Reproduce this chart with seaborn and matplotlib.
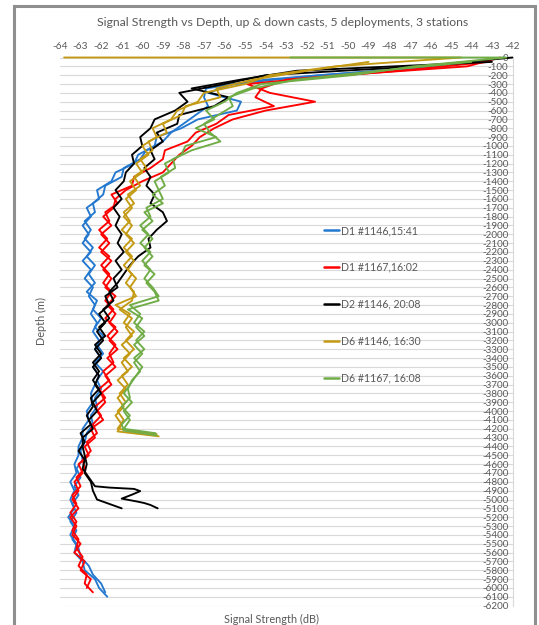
import numpy as np
import pandas as pd
import matplotlib
matplotlib.use("Agg")
import matplotlib.pyplot as plt
from matplotlib.patches import Rectangle
import seaborn as sns

# ---------------- data ----------------
series_names = ["D1 #1146,15:41", "D1 #1167,16:02", "D2 #1146, 20:08",
                "D6 #1146, 16:30", "D6 #1167, 16:08"]
series_colors = ["#2478CF", "#FF0000", "#000000", "#C49A14", "#70AD47"]

x_ticks = list(range(-64, -41))
y_ticks = list(range(0, -6300, -100))

# down casts sampled every 100 m from the surface (0, -100, ...)
# up casts sampled every 100 m from -50 m (-50, -150, ...)
blue_down = [-42.4, -45.3, -51.4, -55.6, -56.8, -55.2, -55.4, -57.3, -58.1, -59.3,
             -59.4, -60.2, -60.4, -61.3, -61.5, -62.2, -62.1, -62.7, -62.5, -62.9,
             -62.6, -62.9, -62.5, -62.9, -62.5, -62.8, -62.4, -62.6, -62.3, -62.5,
             -62.2, -62.4, -62.1, -62.3, -62.0, -62.4, -62.1, -62.3, -62.5, -62.4,
             -62.7, -62.6, -62.9, -62.9, -63.1, -63.1, -63.3, -63.2, -63.5, -63.3,
             -63.5, -63.3, -63.6, -63.3, -63.5, -63.2, -63.3, -62.9, -62.8, -62.3,
             -62.1, -61.7]
blue_up = [-43.8, -48.6, -54.0, -56.9, -57.0, -56.8, -57.4, -58.0, -58.6, -59.0,
           -59.8, -60.1, -60.9, -61.0, -61.8, -61.9, -62.4, -62.3, -62.8, -62.5,
           -62.8, -62.4, -62.7, -62.3, -62.6, -62.3, -62.7, -62.2, -62.4, -62.0,
           -62.3, -61.9, -62.2, -61.9, -62.3, -61.9, -62.2, -62.0, -62.3, -62.2,
           -62.5, -62.4, -62.7, -62.8, -63.0, -62.9, -63.2, -63.0, -63.3, -63.1,
           -63.4, -63.2, -63.5, -63.2, -63.4, -63.1, -63.0, -62.6, -62.4, -62.0,
           -61.8]

red_down = [-42.6, -44.2, -50.3, -54.9, -53.8, -51.6, -54.0, -55.6, -56.5, -57.2,
            -57.6, -58.2, -58.6, -59.0, -60.0, -60.8, -61.3, -61.4, -61.9, -61.5,
            -62.0, -61.6, -62.0, -61.5, -61.9, -61.5, -61.8, -61.3, -61.7, -61.3,
            -61.6, -61.2, -61.6, -61.2, -61.7, -61.3, -61.8, -61.5, -62.0, -61.8,
            -62.2, -61.9, -62.5, -62.3, -62.8, -62.6, -63.1, -62.9, -63.3, -63.1,
            -63.4, -63.1, -63.5, -63.2, -63.4, -63.0, -63.3, -62.8, -63.0, -62.5,
            -62.7]
red_up = [-43.2, -47.5, -53.0, -54.2, -54.5, -53.6, -55.8, -56.4, -57.4, -57.8,
          -58.9, -59.0, -59.6, -60.4, -60.5, -61.5, -61.2, -61.8, -61.6, -62.1,
          -61.7, -62.1, -61.6, -62.0, -61.6, -61.9, -61.5, -61.8, -61.4, -61.8,
          -61.3, -61.7, -61.3, -61.6, -61.4, -61.9, -61.6, -62.1, -61.8, -62.3,
          -62.0, -62.4, -62.2, -62.7, -62.5, -62.9, -62.8, -63.2, -63.0, -63.4,
          -63.2, -63.5, -63.2, -63.4, -63.1, -63.2, -62.9, -63.1, -62.7, -62.8,
          -62.4]

black_down = [-42.0, -46.5, -54.0, -56.0, -58.2, -57.8, -58.4, -59.4, -59.6, -60.1,
              -60.0, -60.5, -60.4, -60.8, -60.9, -61.3, -61.0, -61.4, -61.1, -61.3,
              -61.0, -61.2, -60.9, -61.3, -61.0, -61.4, -61.2, -61.8, -61.6, -62.1,
              -61.8, -62.2, -61.9, -62.3, -62.0, -62.4, -62.1, -62.3, -62.0, -62.4,
              -62.2, -62.6, -62.4, -62.9, -62.9, -62.8, -62.7, -62.8, -62.5, -62.4,
              -62.2, -61.0]
black_up = [-43.0, -52.5, -55.2, -57.6, -55.8, -56.5, -58.2, -58.3, -59.3, -59.0,
            -59.6, -59.4, -59.9, -59.6, -59.8, -59.4, -59.6, -59.0, -58.8, -59.3,
            -59.7, -59.6, -60.2, -60.6, -60.9, -61.2, -61.6, -61.4, -61.9, -61.6,
            -62.1, -61.8, -62.3, -62.0, -62.4, -62.1, -62.4, -62.1, -62.5, -62.4,
            -62.7, -62.5, -63.0, -62.8, -63.1, -62.8, -62.9, -62.6]
# bottom excursion of the D2 up cast (depth, value)
black_up_tail_depth = [-4850, -4865, -4880, -4905, -4945, -4990, -5025, -5040, -5062, -5100]
black_up_tail_value = [-62.3, -61.6, -60.4, -60.1, -60.5, -61.0, -60.2, -59.9, -59.6, -59.25]

gold_down = [-44.5, -50.6, -53.8, -55.0, -57.0, -57.3, -58.3, -58.6, -59.5, -59.3,
             -60.0, -59.7, -60.3, -60.0, -60.6, -60.3, -60.8, -60.5, -60.9, -60.5,
             -60.8, -60.4, -60.8, -60.4, -60.7, -60.3, -60.6, -60.3, -61.3, -60.6,
             -60.9, -60.4, -60.8, -60.4, -60.9, -60.5, -61.0, -60.7, -61.1, -60.8,
             -61.2, -60.9, -61.2]
gold_up = [-49.0, -52.0, -54.6, -56.4, -56.2, -57.9, -58.1, -59.0, -58.8, -59.7,
           -59.5, -60.1, -59.8, -60.4, -60.1, -60.7, -60.4, -60.9, -60.6, -61.0,
           -60.5, -60.9, -60.5, -60.9, -60.5, -60.8, -60.4, -60.5, -61.1, -60.5,
           -60.8, -60.5, -61.0, -60.6, -61.0, -60.7, -61.2, -60.8, -61.2, -60.9,
           -61.3, -61.0]
gold_down_head_depth = [0]
gold_down_head_value = [-63.8]
gold_down_tail_depth = [-4260]
gold_down_tail_value = [-59.3]
gold_up_tail_depth = [-4230, -4285]
gold_up_tail_value = [-61.2, -59.2]

green_down = [-42.3, -46.8, -49.8, -54.2, -55.4, -56.0, -56.9, -56.5, -57.4, -56.4,
              -57.9, -58.1, -58.9, -58.7, -59.4, -59.2, -59.0, -59.8, -59.6, -60.1,
              -59.7, -60.1, -59.6, -60.0, -59.6, -59.9, -59.5, -59.2, -60.6, -60.1,
              -60.4, -59.9, -60.3, -59.9, -60.4, -60.0, -60.3, -60.6, -60.9, -60.5,
              -60.9, -60.6, -60.9]
green_up = [-44.0, -48.5, -52.5, -54.6, -55.8, -55.6, -56.3, -57.0, -56.7, -56.2,
            -57.6, -58.5, -58.4, -59.1, -58.9, -59.5, -59.0, -59.9, -59.5, -60.0,
            -59.5, -59.9, -59.5, -59.9, -59.4, -59.8, -59.4, -59.2, -60.7, -60.0,
            -60.3, -59.9, -60.4, -60.0, -60.4, -60.1, -60.5, -60.7, -60.6, -61.0,
            -60.6, -61.0]
green_down_head_depth = [0]
green_down_head_value = [-52.8]
green_down_tail_depth = [-4250]
green_down_tail_value = [-59.35]
green_up_tail_depth = [-4220, -4275]
green_up_tail_value = [-60.9, -59.3]


def cast_frame(name, cast, values, start, head=([], []), tail=([], [])):
    depth = list(head[0]) + list(start - 100 * np.arange(len(values))) + list(tail[0])
    val = list(head[1]) + list(values) + list(tail[1])
    return pd.DataFrame({"series": name, "cast": cast, "depth": depth, "signal": val})


frames = [
    cast_frame(series_names[0], "down", blue_down, 0),
    cast_frame(series_names[0], "up", blue_up, -50),
    cast_frame(series_names[1], "down", red_down, 0),
    cast_frame(series_names[1], "up", red_up, -50),
    cast_frame(series_names[2], "down", black_down, 0),
    cast_frame(series_names[2], "up", black_up, -50,
               tail=(black_up_tail_depth, black_up_tail_value)),
    cast_frame(series_names[3], "down", gold_down, 0,
               head=(gold_down_head_depth, gold_down_head_value),
               tail=(gold_down_tail_depth, gold_down_tail_value)),
    cast_frame(series_names[3], "up", gold_up, -50,
               tail=(gold_up_tail_depth, gold_up_tail_value)),
    cast_frame(series_names[4], "down", green_down, 0,
               head=(green_down_head_depth, green_down_head_value),
               tail=(green_down_tail_depth, green_down_tail_value)),
    cast_frame(series_names[4], "up", green_up, -50,
               tail=(green_up_tail_depth, green_up_tail_value)),
]
df = pd.concat(frames, ignore_index=True)

# ---------------- style ----------------
sns.set_style("white")
plt.rcParams["font.family"] = ["Lato", "DejaVu Sans"]
plt.rcParams["axes.unicode_minus"] = False
TXT = "#595959"

W, H = 539, 625
fig = plt.figure(figsize=(W / 100, H / 100), dpi=100)
ax_l, ax_r, ax_t, ax_b = 60, 512.5, 57.5, 605.6
ax = fig.add_axes([ax_l / W, 1 - ax_b / H, (ax_r - ax_l) / W, (ax_b - ax_t) / H])

sns.lineplot(data=df, x="signal", y="depth", hue="series", hue_order=series_names,
             palette=series_colors, units="cast", estimator=None, sort=False,
             linewidth=1.35, ax=ax)
for ln in ax.lines:
    ln.set_clip_on(False)

ax.set_xlim(-64, -42)
ax.set_ylim(-6200, 0)
ax.set_xticks(x_ticks)
ax.set_yticks(y_ticks)
ax.set_xticklabels([str(t) for t in x_ticks])
ax.set_yticklabels([str(t) for t in y_ticks])
ax.xaxis.tick_top()
ax.yaxis.tick_right()
ax.tick_params(axis="x", length=0, pad=5, labelsize=7.3, labelcolor=TXT)
ax.tick_params(axis="y", length=0, pad=-3, labelsize=7.1, labelcolor=TXT)
plt.setp(ax.get_yticklabels(), ha="right")
ax.yaxis.grid(True, color="#d9d9d9", linewidth=0.8)
ax.xaxis.grid(False)
ax.set_axisbelow(True)
for s in ["top", "left", "bottom"]:
    ax.spines[s].set_visible(False)
ax.spines["right"].set_color("#d9d9d9")
ax.spines["right"].set_linewidth(0.8)
ax.set_xlabel("")
ax.set_ylabel("")

# legend
sns.move_legend(ax, "upper left", bbox_to_anchor=((324 - ax_l) / (ax_r - ax_l),
                1 - (225 - ax_t) / (ax_b - ax_t)),
                frameon=False, title=None, fontsize=7.6, labelspacing=2.45,
                handlelength=1.45, handletextpad=0.15, borderpad=0, borderaxespad=0)
leg = ax.get_legend()
for t in leg.get_texts():
    t.set_color(TXT)
for h in leg.legend_handles:
    h.set_linewidth(1.8)

# texts
fig.text(283 / W, 1 - 23 / H, "Signal Strength vs Depth, up & down casts, 5 deployments, 3 stations",
         ha="center", va="center", fontsize=8.8, color=TXT)
fig.text(41 / W, 1 - 321 / H, "Depth (m)", rotation=90, ha="center", va="center",
         fontsize=7.8, color=TXT)
fig.text(272 / W, 1 - 619 / H, "Signal Strength (dB)", ha="center", va="center",
         fontsize=7.8, color=TXT)

# chart frame
fig.add_artist(Rectangle((14 / W, -0.05), (535 - 14) / W, 1.05 - 6 / H,
                         transform=fig.transFigure, fill=False,
                         edgecolor="#8f8f8f", linewidth=2.2))

fig.savefig("out.png", dpi=100)
